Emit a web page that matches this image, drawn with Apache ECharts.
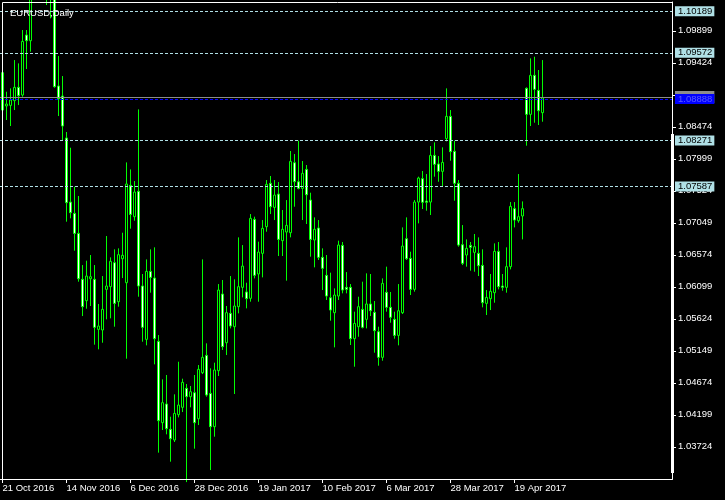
<!DOCTYPE html>
<html><head><meta charset="utf-8">
<script src="https://cdn.jsdelivr.net/npm/echarts@6/dist/echarts.min.js"></script>
<style>html,body{margin:0;padding:0;background:#000;}#c{width:725px;height:500px;}</style>
</head><body><div id="c"></div>
<script>
var symbolName = 'EURUSD,Daily';
var startDate = [2016, 9, 21];

var open = [
1.09277,1.08783,1.08792,1.08862,1.09060,1.08946,1.09836,1.09752,1.1050,1.1095,
1.1100,1.1120,1.1045,1.1038,1.09080,1.08931,1.08308,1.07357,1.07189,1.06892,
1.06210,1.05893,1.06219,1.06210,1.05467,1.05458,1.06061,1.06101,1.06457,1.05878,
1.06516,1.06160,1.07605,1.07140,1.07516,1.06111,1.05319,1.06328,1.06229,1.05289,
1.04082,1.04359,1.03983,1.03825,1.04201,1.04310,1.04592,1.04468,1.04527,1.04141,
1.04824,1.05081,1.04517,1.04023,1.04854,1.05992,1.05269,1.05705,1.05507,1.05804,
1.06091,1.06022,1.05928,1.07100,1.06289,1.06596,1.06991,1.07635,1.07278,1.07476,
1.06784,1.06912,1.06902,1.07941,1.07659,1.07560,1.07842,1.07387,1.06794,1.06972,
1.06536,1.06269,1.05937,1.05715,1.05962,1.06714,1.06091,1.06091,1.05329,1.05507,
1.05764,1.05616,1.05844,1.05720,1.05433,1.05052,1.06017,1.05794,1.05616,1.05378,
1.05715,1.06813,1.06521,1.06061,1.07357,1.07704,1.07372,1.07357,1.08050,1.07922,
1.07813,1.08298,1.08629,1.08110,1.07635,1.06724,1.06571,1.06714,1.06610,1.06596,
1.06417,1.05853,1.05923,1.06012,1.06625,1.06111,1.06091,1.06398,1.07259,1.07080,
1.07150,1.09045,1.08659,1.09238,1.09015,1.08684];

var high = [
1.09297,1.08995,1.09045,1.09465,1.09416,1.09911,1.09911,1.1060,1.1122,1.1125,
1.1142,1.1125,1.1072,1.1300,1.09525,1.09228,1.08397,1.08164,1.07585,1.07447,
1.06422,1.06487,1.06571,1.06422,1.05844,1.06259,1.06853,1.06536,1.06655,1.06670,
1.06902,1.07946,1.07842,1.07669,1.08733,1.06289,1.06506,1.06655,1.06685,1.05383,
1.04725,1.04790,1.04171,1.04503,1.04987,1.04735,1.04656,1.04627,1.04790,1.04938,
1.06506,1.05260,1.04889,1.04973,1.06140,1.06200,1.05814,1.06259,1.06210,1.06833,
1.06719,1.06160,1.07179,1.07140,1.06769,1.07090,1.07684,1.07744,1.07684,1.07654,
1.07239,1.07387,1.08115,1.08070,1.08268,1.07966,1.07907,1.07496,1.07130,1.07090,
1.06670,1.06571,1.06309,1.06076,1.06784,1.06764,1.06318,1.06140,1.05730,1.05952,
1.06175,1.06299,1.06289,1.05888,1.05507,1.06224,1.06398,1.06022,1.05730,1.06140,
1.06981,1.07130,1.06620,1.07387,1.07734,1.07818,1.07773,1.08189,1.08243,1.08040,
1.08169,1.09045,1.08723,1.08268,1.07684,1.07016,1.06803,1.06764,1.06883,1.06833,
1.06655,1.06051,1.06289,1.06744,1.06764,1.06289,1.06685,1.07357,1.07357,1.07773,
1.07367,1.09060,1.09490,1.09515,1.09317,1.09465];

var low = [
1.08713,1.08575,1.08486,1.08723,1.08797,1.08921,1.09332,1.09589,1.1040,1.1068,
1.1080,1.10282,1.10084,1.09055,1.08634,1.08278,1.07066,1.07115,1.06635,1.06175,
1.05665,1.05774,1.05814,1.05240,1.05171,1.05269,1.05616,1.05631,1.05507,1.05804,
1.06229,1.05032,1.06962,1.07080,1.05952,1.05284,1.05230,1.06012,1.04948,1.03637,
1.03973,1.03909,1.03503,1.03795,1.04161,1.04240,1.0320,1.04310,1.03696,1.04047,
1.04804,1.04468,1.03379,1.03874,1.04775,1.05161,1.05086,1.05482,1.04508,1.05705,
1.05942,1.05779,1.05878,1.06224,1.05878,1.06239,1.06917,1.07179,1.07090,1.06556,
1.06556,1.06190,1.06833,1.07288,1.07546,1.07090,1.07031,1.06546,1.06388,1.06497,
1.06051,1.05903,1.05596,1.05200,1.05903,1.06002,1.06002,1.05235,1.04913,1.05358,
1.05482,1.05482,1.05665,1.05121,1.04928,1.05002,1.05730,1.05566,1.05329,1.05230,
1.05695,1.06497,1.05977,1.06027,1.07041,1.07254,1.07229,1.07165,1.07734,1.07659,
1.07595,1.08258,1.07971,1.07377,1.06695,1.06422,1.06398,1.06338,1.06323,1.06259,
1.05794,1.05680,1.05754,1.05863,1.06061,1.06041,1.06012,1.06358,1.06981,1.07051,
1.06803,1.08194,1.08486,1.08535,1.08501,1.08550];

var close = [
1.08723,1.08812,1.08872,1.09060,1.08936,1.09742,1.09752,1.1048,1.1095,1.1100,
1.1140,1.1045,1.1038,1.09070,1.08891,1.08486,1.07348,1.07199,1.06892,1.06219,
1.05804,1.06259,1.06249,1.05497,1.05517,1.05764,1.06111,1.06477,1.05853,1.06576,
1.06566,1.07625,1.07174,1.07506,1.06111,1.05497,1.06328,1.06239,1.05329,1.04112,
1.04379,1.03993,1.03844,1.04220,1.04344,1.04681,1.04468,1.04542,1.04082,1.04874,
1.05052,1.04493,1.04023,1.04864,1.06051,1.05210,1.05715,1.05517,1.05814,1.06101,
1.06407,1.05923,1.07115,1.06269,1.06615,1.06967,1.07620,1.07288,1.07461,1.06803,
1.06952,1.07011,1.07961,1.07659,1.07560,1.07783,1.07466,1.06803,1.06952,1.06536,
1.06373,1.05962,1.05754,1.05977,1.06719,1.06051,1.06061,1.05329,1.05556,1.05804,
1.05497,1.05844,1.05744,1.05448,1.05052,1.06150,1.05794,1.05646,1.05378,1.05744,
1.06704,1.06516,1.06061,1.07357,1.07714,1.07353,1.07353,1.08050,1.07917,1.07813,
1.07946,1.08629,1.08105,1.07635,1.06719,1.06447,1.06670,1.06685,1.06695,1.06412,
1.05863,1.05942,1.06032,1.06625,1.06101,1.06091,1.06398,1.07293,1.07090,1.07140,
1.07259,1.08659,1.09238,1.09030,1.08713,1.08905];

var yTicks = [1.03724,1.04199,1.04674,1.05149,1.05624,1.06099,1.06574,1.07049,1.07524,1.07999,1.08474,1.08949,1.09424,1.09899];
var xTickBars = [0, 16, 32, 48, 64, 80, 96, 112, 128];
var levelLines = [1.10189, 1.09572, 1.08271, 1.07587];
var bidPrice = 1.08918;
var askPrice = 1.08888;
var yMin = 1.03246, yMax = 1.10327;
var xMin = -0.625, xMax = 167.375;

var barCount = open.length;
var MON = ['Jan','Feb','Mar','Apr','May','Jun','Jul','Aug','Sep','Oct','Nov','Dec'];
var dates = [];
var d = new Date(Date.UTC(startDate[0], startDate[1], startDate[2]));
while (dates.length < barCount) {
  var wd = d.getUTCDay();
  if (wd !== 0 && wd !== 6) dates.push(d.getUTCDate() + ' ' + MON[d.getUTCMonth()] + ' ' + d.getUTCFullYear());
  d = new Date(d.getTime() + 86400000);
}

var ohlc = open.map(function (o, i) { return [i, o, close[i], low[i], high[i]]; });

var FONT = 'Liberation Sans';

function lvlLabel(text, fg, bg, pad) {
  return { show: true, position: 'end', distance: 3, formatter: text,
    color: fg, backgroundColor: bg, padding: pad || [1, 2, 0, 3], lineHeight: 9,
    fontFamily: FONT, fontSize: 9.5 };
}
var mlData = levelLines.map(function (v) {
  return { yAxis: v, lineStyle: { color: '#b0e0e6', type: [3, 2], width: 1 },
    label: lvlLabel(v.toFixed(5), '#000', '#b0e0e6') };
});
mlData.push({ yAxis: bidPrice, lineStyle: { color: '#8c8c8c', type: 'solid', width: 1 },
  label: lvlLabel(bidPrice.toFixed(5), '#8c8c8c', '#8c8c8c', [2, 2, 1, 3]) });
mlData.push({ yAxis: askPrice, lineStyle: { color: '#0000ff', type: [3, 2], width: 1 },
  label: lvlLabel(askPrice.toFixed(5), '#5a5aff', '#0000ff') });

var chart = echarts.init(document.getElementById('c'), null, { renderer: 'canvas' });
chart.setOption({
  backgroundColor: '#000',
  animation: false,
  title: { text: symbolName, left: 5, top: 3,
    textStyle: { color: '#fff', fontSize: 9.5, fontWeight: 'normal', fontFamily: FONT } },
  grid: { left: 0, top: 2, width: 672, height: 477, containLabel: false, outerBoundsMode: 'none' },
  xAxis: {
    type: 'value', min: xMin, max: xMax,
    axisLine: { show: true, onZero: false, lineStyle: { color: '#fff', width: 1 } },
    axisTick: { show: true, length: 4, customValues: xTickBars, lineStyle: { color: '#fff' } },
    axisLabel: { customValues: xTickBars, align: 'left', margin: 4, color: '#fff', fontSize: 9.5, fontFamily: FONT,
      formatter: function (v) { return dates[Math.round(v)] || ''; } },
    splitLine: { show: false }
  },
  yAxis: {
    type: 'value', position: 'right', min: yMin, max: yMax,
    axisLine: { show: true, onZero: false, lineStyle: { color: '#fff', width: 1 } },
    axisTick: { show: true, length: 4, customValues: yTicks, lineStyle: { color: '#fff' } },
    axisLabel: { customValues: yTicks, margin: 6, color: '#fff', fontSize: 9.5, fontFamily: FONT,
      formatter: function (v) { return v.toFixed(5); } },
    splitLine: { show: false }
  },
  graphic: [
    { type: 'rect', z: 50, silent: true, shape: { x: 2.5, y: 2.5, width: 670, height: 477 },
      style: { fill: null, stroke: '#fff', lineWidth: 1 } },
    { type: 'rect', z: 50, silent: true, shape: { x: 671, y: 134, width: 3, height: 339 },
      style: { fill: '#fff' } }
  ],
  series: [
    {
      type: 'candlestick', data: ohlc, barWidth: 2, clip: true,
      encode: { x: 0, y: [1, 2, 3, 4] },
      itemStyle: { color: '#000', color0: '#fff', borderColor: '#00ff00', borderColor0: '#00ff00', borderWidth: 1 },
      markLine: { symbol: ['none', 'none'], precision: 5, silent: true, animation: false, data: mlData }
    }
  ]
});
</script></body></html>
